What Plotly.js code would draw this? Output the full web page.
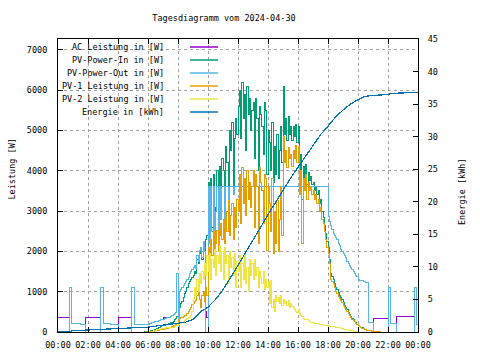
<!DOCTYPE html>
<html><head><meta charset="utf-8">
<script src="https://cdn.plot.ly/plotly-3.0.1.min.js"></script>
<style>html,body{margin:0;padding:0;background:#fff}#chart{width:480px;height:360px}
#chart .scatterlayer .js-line{shape-rendering:crispEdges}</style>
</head><body><div id="chart"></div>
<script>
const DAY = '2024-04-30';
const titleText = 'Tagesdiagramm vom 2024-04-30';
const seriesNames = ['AC Leistung in [W]','PV-Power-In in [W]','PV-Power-Out in [W]','PV-1 Leistung in [W]','PV-2 Leistung in [W]','Energie in [kWh]'];
const seriesColors = ['#9400d3','#009e73','#56b4e9','#e69f00','#f0e442','#0072b2'];
const leftTitle = 'Leistung [W]';
const rightTitle = 'Energie [kWh]';

// power values every 5 minutes, one row per hour (00:00 ... 23:55), plus 24:00
const acPower = [
365,365,365,365,365,365,365,365,365,1110,1110,200,
200,200,200,200,200,200,180,180,180,180,365,365,
365,365,365,365,365,365,365,365,365,365,1110,1110,
200,200,200,200,200,200,195,195,190,190,190,190,
365,365,365,365,365,365,365,365,365,365,365,1110,
1110,180,180,180,180,180,180,180,180,180,180,180,
190,200,220,230,240,250,260,270,280,290,300,310,
365,365,365,365,365,365,380,400,430,470,480,1450,
365,1000,1050,1100,1150,1200,1250,1300,1350,1450,1500,1550,
1600,1650,1580,1900,1750,2030,2100,1850,2250,2000,500,365,
3600,2200,3600,2500,3600,2000,3000,3600,2300,3600,2800,3600,
3600,2600,3600,3600,3100,3600,3600,3600,3400,3600,3600,3600,
3600,3600,3600,3600,3600,3600,3600,3600,3600,3600,3600,3600,
3600,3600,3600,3600,3600,3600,3600,3600,3600,3600,3600,3600,
3600,3600,3600,3600,3600,3600,3600,3600,3600,3600,3600,3600,
3600,3600,3600,3600,3600,3600,3600,3600,3600,3600,3600,3600,
3600,3600,3600,3600,3600,3600,3600,3600,3600,3600,3600,3600,
3600,3600,3600,3600,3600,3600,3600,3600,3600,3600,3600,3600,
2860,2750,2650,2550,2450,2400,2350,2300,2200,2150,2050,2000,
1950,1900,1850,1750,1700,1650,1600,1550,1500,1450,1400,1370,
1300,1290,1280,1270,1260,1250,1240,1230,230,230,230,230,
340,340,340,340,340,340,340,340,340,340,340,340,
1110,1110,215,215,215,215,215,380,380,380,380,380,
380,380,380,380,380,380,380,380,380,1110,1110,190,
190];

const pvIn = [
null,null,null,null,null,null,null,null,null,null,null,null,
null,null,null,null,null,null,null,null,null,null,null,null,
null,null,null,null,null,null,null,null,null,null,null,null,
null,null,null,null,null,null,null,null,null,null,null,null,
null,null,null,null,null,null,null,null,null,null,null,null,
null,null,null,null,null,null,null,null,null,10,15,20,
15,22,30,38,45,55,70,85,100,120,140,160,
150,165,180,190,205,220,230,245,270,300,340,390,
550,600,700,750,850,950,1000,1100,1200,1250,1300,1350,
1400,1500,1450,1800,1700,1950,2050,1800,2200,2000,2300,2400,
3700,2300,3800,2600,3900,2100,3100,4000,2400,4100,3000,4300,
4000,2700,4600,4200,3600,5000,4500,5200,3500,4800,5300,4900,
5600,6000,4800,6200,5300,5900,4500,6100,5400,5800,5000,5500,
5700,4300,5800,5300,4000,5600,5400,5100,4400,5700,5500,3900,
5000,4700,4000,5200,3700,4600,3900,4900,3800,4500,5100,4200,
6100,4900,5300,4750,5350,4900,5100,4750,5100,4850,5150,4700,
5100,3900,4400,3300,4100,3800,4150,3650,3950,3750,3850,3650,
3700,3500,3600,3400,3500,3200,3300,3000,2850,2650,2450,2250,
2100,1800,1450,1380,1300,1200,1100,1050,980,900,850,800,
740,670,615,550,495,440,390,345,300,260,225,190,
170,140,120,100,80,65,55,48,42,32,26,21,
16,13,10,8,6,4,0,null,null,null,null,null,
null,null,null,null,null,null,null,null,null,null,null,null,
null,null,null,null,null,null,null,null,null,null,null,null,
null];

const pvOut = [
0,0,0,0,0,0,0,0,0,1110,1110,200,
200,200,200,200,200,200,180,180,180,180,0,0,
0,0,0,0,0,0,0,0,0,0,1110,1110,
200,200,200,200,200,200,195,195,190,190,190,190,
0,0,0,0,0,0,0,0,0,0,0,1110,
1110,180,180,180,180,180,180,180,180,180,180,180,
190,200,220,230,240,250,260,270,280,290,300,310,
320,330,340,350,360,370,380,400,430,470,480,1450,
0,1000,1050,1100,1150,1200,1250,1300,1350,1450,1500,1550,
1600,1650,1580,1900,1750,2030,2100,1850,2250,2000,0,0,
3600,2200,3600,2500,3600,2000,3000,3600,2300,3600,2800,3600,
3600,2600,3600,3600,3100,3600,3600,3600,3400,3600,3600,3600,
3600,3600,3600,3600,3600,3600,3600,3600,3600,3600,3600,3600,
3600,3600,3600,3600,3600,3600,3600,3600,3600,3600,3600,3600,
3600,3600,3600,3600,3600,3600,3600,3600,3600,3600,3600,3600,
3600,3600,3600,3600,3600,3600,3600,3600,3600,3600,3600,3600,
3600,3600,3600,3600,3600,3600,3600,3600,3600,3600,3600,3600,
3600,3600,3600,3600,3600,3600,3600,3600,3600,3600,3600,3600,
2860,2750,2650,2550,2450,2400,2350,2300,2200,2150,2050,2000,
1950,1900,1850,1750,1700,1650,1600,1550,1500,1450,1400,1370,
1300,1290,1280,1270,1260,1250,1240,1230,230,230,230,230,
0,0,0,0,0,0,0,0,0,0,0,0,
1110,1110,215,215,215,215,215,0,0,0,0,0,
0,0,0,0,0,0,0,0,0,1110,1110,190,
190];

const pv1 = [
null,null,null,null,null,null,null,null,null,null,null,null,
null,null,null,null,null,null,null,null,null,null,null,null,
null,null,null,null,null,null,null,null,null,null,null,null,
null,null,null,null,null,null,null,null,null,null,null,null,
null,null,null,null,null,null,null,null,null,null,null,null,
null,null,null,null,null,null,null,null,null,0,5,10,
10,12,15,18,20,25,30,35,40,50,60,70,
60,70,80,90,100,110,120,130,150,170,190,220,
300,330,350,370,390,410,420,450,500,560,620,680,
700,750,790,900,1040,800,620,900,1000,750,1100,900,
2100,1700,2300,1900,2500,1800,2200,2530,2000,2400,2700,2300,
2800,2200,3000,2500,3270,2400,2900,3200,2300,3100,2600,3300,
3000,3900,2700,4090,3200,3800,2900,4000,3300,3700,3100,3600,
4000,2600,3900,3600,2200,4090,3700,3500,2700,3900,3800,2030,
3600,3200,2500,3800,1960,3000,2200,3270,2000,2800,3600,2400,
4840,4200,4500,4090,4590,4300,4400,4100,4500,4300,4640,4200,
4600,3400,4000,2200,3800,3500,3900,3300,3700,3500,3600,3400,
3500,3300,3400,3200,3300,3000,3100,2800,2700,2500,2300,2100,
1960,1700,1300,1250,1200,1100,1000,950,880,820,770,720,
670,610,560,500,450,400,360,320,280,250,220,190,
160,130,110,90,75,60,50,45,40,30,25,20,
15,12,10,8,6,4,0,null,null,null,null,null,
null,null,null,null,null,null,null,null,null,null,null,null,
null,null,null,null,null,null,null,null,null,null,null,null,
null];

const pv2 = [
null,null,null,null,null,null,null,null,null,null,null,null,
null,null,null,null,null,null,null,null,null,null,null,null,
null,null,null,null,null,null,null,null,null,null,null,null,
null,null,null,null,null,null,null,null,null,null,null,null,
null,null,null,null,null,null,null,null,null,null,null,null,
null,null,null,null,null,null,null,null,null,null,null,null,
5,10,15,20,25,30,40,50,60,70,80,90,
90,95,100,100,105,110,110,115,120,130,150,170,
180,200,220,240,260,280,300,330,350,370,420,500,
800,1100,900,1300,1000,1450,1200,1500,1300,1700,1400,1900,
1500,1950,1300,1800,1600,2050,1400,1900,1700,2150,1500,2000,
1300,2100,1700,1900,1200,2000,1600,1850,1400,1950,1100,1750,
1500,1900,1100,1700,1300,1950,1200,1600,1000,1800,1400,1700,
1300,1800,1400,1600,1100,1500,1350,1200,1500,1050,1300,1100,
1250,700,1290,600,800,500,900,750,850,700,900,650,
800,700,750,650,780,620,700,640,600,560,520,480,
550,450,400,380,340,320,300,300,280,260,240,230,
220,210,210,200,200,190,180,180,170,170,160,150,
140,135,130,130,130,125,120,120,110,100,90,80,
70,60,55,50,45,40,30,25,20,10,5,0,
0,null,null,null,null,null,null,null,null,null,null,null,
null,null,null,null,null,null,null,null,null,null,null,null,
null,null,null,null,null,null,null,null,null,null,null,null,
null,null,null,null,null,null,null,null,null,null,null,null,
null];

const energyTimes = ['00:00','00:45','01:00','02:00','03:00','04:00','05:00','06:00','06:30','07:30','08:00','08:30','09:00','09:30','10:00','10:30','11:00','11:30','12:00','12:30','13:00','13:30','14:00','14:30','15:00','15:30','16:00','16:30','17:00','17:30','18:00','18:30','19:00','19:30','20:00','20:30','21:00','21:30','22:00','22:10','23:45','24:00'];
const energyKWh = [0,0.05,0.2,0.3,0.4,0.55,0.7,0.75,0.9,1.2,1.25,1.5,1.95,3.1,3.8,5.0,6.5,8.3,10.2,12.2,14.2,16.1,18.0,19.9,21.8,23.6,25.3,27.0,28.7,30.3,31.6,33.0,34.1,35.0,35.7,36.2,36.35,36.4,36.45,36.65,36.7,36.8];

function hm(s){ return s === '24:00' ? '2024-05-01 00:00' : DAY + ' ' + s; }
const grid = [];
for (let m = 0; m <= 1440; m += 5) {
  const h = Math.floor(m / 60), mm = m % 60;
  grid.push(hm(String(h).padStart(2,'0') + ':' + String(mm).padStart(2,'0')));
}
[acPower, pvIn, pvOut, pv1, pv2].forEach((a, i) => { if (a.length !== grid.length) throw new Error('length ' + i + ': ' + a.length); });

const powerSeries = [acPower, pvIn, pvOut, pv1, pv2];
const traces = powerSeries.map((vals, i) => ({
  type: 'scatter', mode: 'lines', name: seriesNames[i], x: grid, y: vals,
  line: {color: seriesColors[i], width: 1, shape: 'hv'}, connectgaps: false, hoverinfo: 'skip'
}));
traces.push({
  type: 'scatter', mode: 'lines', name: seriesNames[5], x: energyTimes.map(hm), y: energyKWh,
  yaxis: 'y2', line: {color: seriesColors[5], width: 1.2}, hoverinfo: 'skip'
});

const L = 58, R = 418, T = 39, B = 332;
const px = x => (x - L) / (R - L);
const py = y => (B - y) / (B - T);
const FONT = 'DejaVu Sans Mono, monospace';
const annotations = [];
const shapes = [];
seriesNames.forEach((n, i) => {
  const y = 47 + 13 * i;
  annotations.push({xref: 'paper', yref: 'paper', x: px(166), y: py(y), xanchor: 'right', yanchor: 'middle', text: n, showarrow: false, font: {family: FONT, size: 8.5, color: '#000'}});
  shapes.push({type: 'line', xref: 'paper', yref: 'paper', x0: px(190), x1: px(218), y0: py(y), y1: py(y), line: {color: seriesColors[i], width: 1.5}});
});
annotations.push({xref: 'paper', yref: 'paper', x: px(11.5), y: py(169), xanchor: 'center', yanchor: 'middle', text: leftTitle, textangle: -90, showarrow: false, font: {family: FONT, size: 8.5, color: '#000'}});
annotations.push({xref: 'paper', yref: 'paper', x: px(462), y: py(192), xanchor: 'center', yanchor: 'middle', text: rightTitle, textangle: -90, showarrow: false, font: {family: FONT, size: 8.5, color: '#000'}});

const layout = {
  width: 480, height: 360,
  margin: {l: 58, r: 62, t: 39, b: 28, pad: 0},
  paper_bgcolor: '#fff', plot_bgcolor: '#fff',
  font: {family: FONT, size: 8.5, color: '#000'},
  showlegend: false,
  title: {text: titleText, x: 224/480, xref: 'container', xanchor: 'center', y: 1 - 18/360, yref: 'container', yanchor: 'middle', font: {family: FONT, size: 8.5, color: '#000'}},
  xaxis: {type: 'date', range: [hm('00:00'), hm('24:00')], tick0: hm('00:00'), dtick: 7200000, tickformat: '%H:%M',
    ticks: 'inside', ticklen: 5, tickcolor: '#000', showline: true, linecolor: '#000', linewidth: 1, mirror: 'ticks',
    showgrid: true, gridcolor: '#a0a0a0', griddash: '3px,3px', gridwidth: 1, zeroline: false, ticklabelstandoff: 5, fixedrange: true},
  yaxis: {range: [0, 7270], dtick: 1000, tick0: 0, ticks: 'inside', ticklen: 5, tickcolor: '#000', showline: true, linecolor: '#000', linewidth: 1,
    showgrid: true, gridcolor: '#a0a0a0', griddash: '3px,3px', gridwidth: 1, zeroline: false, ticklabelstandoff: 8, fixedrange: true},
  yaxis2: {range: [0, 45], dtick: 5, tick0: 0, overlaying: 'y', side: 'right', ticks: 'inside', ticklen: 5, tickcolor: '#000', showline: true, linecolor: '#000', linewidth: 1,
    showgrid: false, zeroline: false, ticklabelstandoff: 7, fixedrange: true},
  annotations: annotations, shapes: shapes
};
Plotly.newPlot('chart', traces, layout, {staticPlot: true, displayModeBar: false});
</script></body></html>
